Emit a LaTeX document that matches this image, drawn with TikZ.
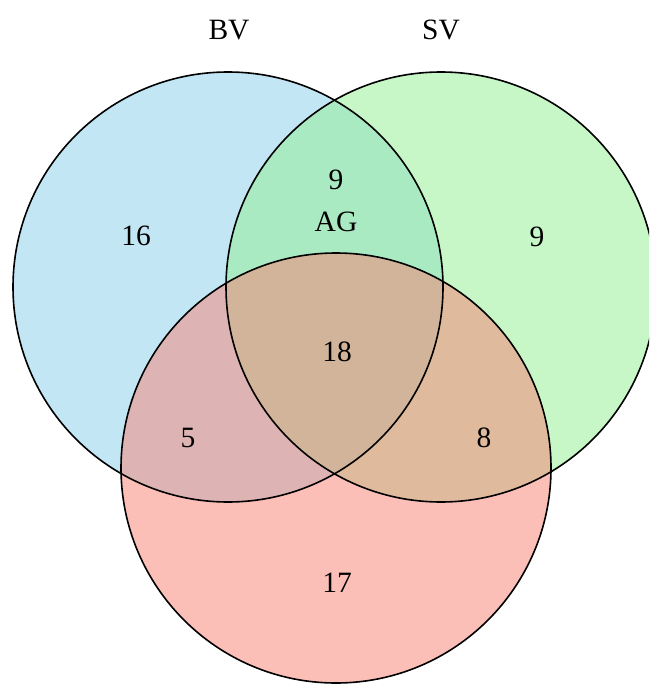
\documentclass[tikz,border=0pt]{standalone}
\usepackage{fontspec}
\setmainfont{Liberation Serif}

\definecolor{bvblue}{RGB}{135,206,235}
\definecolor{svgreen}{RGB}{144,238,144}
\definecolor{agred}{RGB}{250,128,114}

\begin{document}
\begin{tikzpicture} [
    x = 1pt,
    y = -1pt,
    set fill/.style = {fill opacity=0.5},
    set line/.style = {draw=black, line width=1.6pt},
    count/.style = {font=\fontsize{29.5}{34}\selectfont, inner sep=0pt}]

\useasboundingbox (0,0) rectangle (649,684);
\clip (0,0) rectangle (649,684);

% Set centres
\coordinate (bv) at (228,287);
\coordinate (sv) at (441,287);
\coordinate (ag) at (336,468);

% Fills
\fill [set fill, bvblue] (bv) circle [radius=215pt];
\fill [set fill, svgreen] (sv) circle [radius=215pt];
\fill [set fill, agred] (ag) circle [radius=215pt];

% Outlines
\draw [set line] (bv) circle [radius=215pt];
\draw [set line] (sv) circle [radius=215pt];
\draw [set line] (ag) circle [radius=215pt];

% Set names
\node (bvname) [count] at (229,30) {BV};
\node (svname) [count] at (441,30) {SV};
\node (agname) [count] at (336,222) {AG};

% Counts
\node (onlybv) [count] at (136,236) {16};
\node (bvsv) [count] at (336,180) {9};
\node (onlysv) [count] at (537,237) {9};
\node (all) [count] at (337,352) {18};
\node (bvag) [count] at (188,438) {5};
\node (svag) [count] at (484,438) {8};
\node (onlyag) [count] at (337,583) {17};
\end{tikzpicture}
\end{document}
